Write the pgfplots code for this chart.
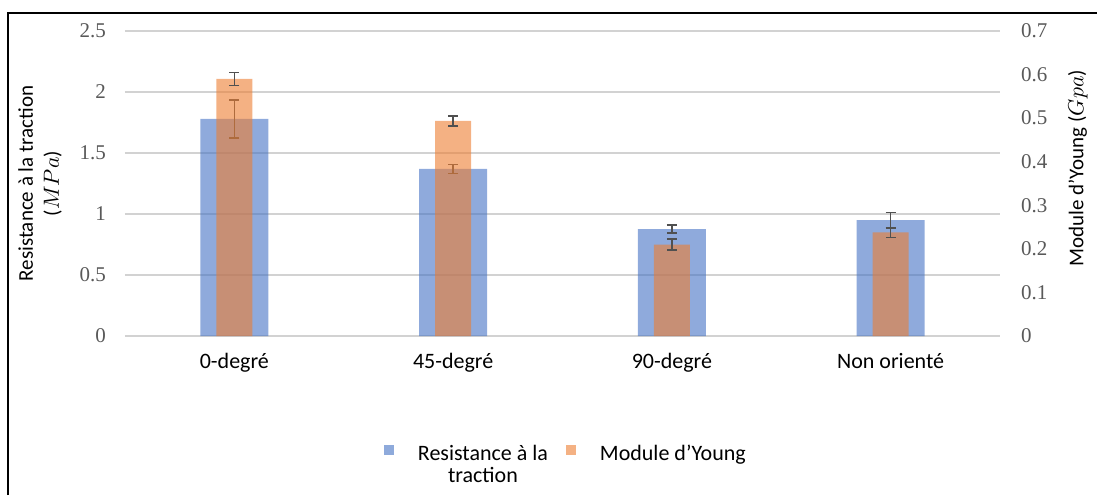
\documentclass[border=0pt]{standalone}
\usepackage{fontspec}
\usepackage{pgfplots}
\pgfplotsset{compat=1.18}
\setmainfont{Carlito}
\newfontfamily\tnr{Liberation Serif}

\definecolor{xlblue}{RGB}{68,114,196}
\definecolor{xlorange}{RGB}{237,125,49}
\definecolor{tickgray}{RGB}{89,89,89}
\definecolor{gridgray}{RGB}{210,210,210}
\definecolor{errgray}{RGB}{80,80,80}

\begin{document}
\begin{tikzpicture}
    % 1 px of the reference = 0.5pt
    \pgfplotsset{
        common/.style={
            scale only axis,
            width            = 437.5pt,
            height           = 152.5pt,
            at               = {(62.5pt,79.5pt)},
            anchor           = south west,
            xmin = -0.5, xmax = 3.5,
            enlargelimits    = false,
            axis line style  = {draw=none},
            major tick length = 0pt,
            /pgf/number format/assume math mode = true,
            yticklabel style = {font=\tnr\fontsize{10.5}{12}\selectfont, text=tickgray},
            ybar,
        },
    }
    \begin{axis}[
        common,
        ymin = 0, ymax = 2.5,
        ytick            = {0, 0.5, 1, 1.5, 2, 2.5},
        yticklabel style = {xshift=-6pt},
        ymajorgrids,
        major grid style = {gridgray, line width=0.9pt},
        xtick            = {0, 1, 2, 3},
        xticklabels      = {0-degré, 45-degré, 90-degré, Non orienté},
        xticklabel style = {font=\fontsize{11}{13}\selectfont, yshift=-5pt},
        ylabel           = {Resistance à la traction\\($MPa$)},
        ylabel style     = {at={(axis description cs:-0.097,0.5)}, anchor=center,
                            align=center, font=\fontsize{10.5}{13}\selectfont},
        legend style     = {at={(0.505,-0.33)}, anchor=north, draw=none,
                            font=\fontsize{11}{13}\selectfont,
                            /tikz/every odd column/.append style={column sep=10pt},
                            /tikz/every even column/.append style={column sep=7pt}},
        legend columns   = 2,
        legend image code/.code = {\fill[#1] (0pt,-0.5pt) rectangle (5pt,4.5pt);},
        ]
        \addplot[
            fill         = xlblue,
            fill opacity = 0.6,
            draw         = none,
            bar width    = 34pt,
            error bars/.cd,
                y dir = both, y explicit,
                error bar style   = {draw=errgray, line width=0.75pt},
                error mark options = {rotate=90, mark size=2.5pt, draw=errgray, line width=0.75pt},
            ]
            coordinates {
                (0, 1.78) +- (0, 0.156)
                (1, 1.37) +- (0, 0.037)
                (2, 0.877) +- (0, 0.034)
                (3, 0.95) +- (0, 0.064)
            };
        \addlegendentry{\renewcommand\arraystretch{0.85}\begin{tabular}[t]{@{}c@{}}Resistance à la\\traction\end{tabular}}
        \addlegendimage{fill=xlorange, fill opacity=0.6, draw=none}
        \addlegendentry{Module d’Young}
    \end{axis}

    \begin{axis}[
        common,
        ymin = 0, ymax = 0.7,
        axis x line      = none,
        axis y line*     = right,
        ytick            = {0, 0.1, 0.2, 0.3, 0.4, 0.5, 0.6, 0.7},
        yticklabels      = {0, 0.1, 0.2, 0.3, 0.4, 0.5, 0.6, 0.7},
        yticklabel style = {xshift=7pt},
        ylabel           = {Module d’Young ($Gpa$)},
        ylabel style     = {at={(axis description cs:1.089,0.55)}, anchor=center,
                            rotate=0, font=\fontsize{10.5}{13}\selectfont},
        ]
        \addplot[
            fill         = xlorange,
            fill opacity = 0.6,
            draw         = none,
            bar width    = 18pt,
            error bars/.cd,
                y dir = both, y explicit,
                error bar style   = {draw=errgray, line width=0.75pt},
                error mark options = {rotate=90, mark size=2.5pt, draw=errgray, line width=0.75pt},
            ]
            coordinates {
                (0, 0.590) +- (0, 0.015)
                (1, 0.494) +- (0, 0.0115)
                (2, 0.210) +- (0, 0.0126)
                (3, 0.238) +- (0, 0.0115)
            };
    \end{axis}

    % frame of the figure (left and top edges)
    \draw[line width=1.2pt] (4pt,0pt) -- (4pt,241pt) -- (548.5pt,241pt);

    \pgfresetboundingbox
    \path[use as bounding box] (0pt,0pt) rectangle (548.5pt,247.5pt);
\end{tikzpicture}
\end{document}
